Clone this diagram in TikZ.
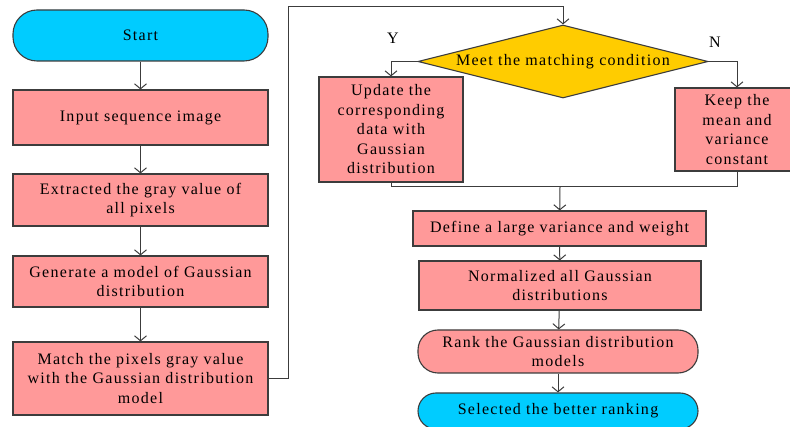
\documentclass[tikz,border=0pt]{standalone}
\usepackage{fontspec}
\setmainfont[LetterSpace=8]{Liberation Serif}
\usepackage{tikz}
\usetikzlibrary{arrows.meta}
\usetikzlibrary{shapes.geometric}

\definecolor{startcyan}{RGB}{0,204,255}
\definecolor{boxpink}{RGB}{255,153,153}
\definecolor{condyellow}{RGB}{255,204,0}
\definecolor{edgegray}{RGB}{60,60,60}

\begin{document}
\begin{tikzpicture}
[x=1pt,y=-1pt
,fb/.style={draw=edgegray,line width=1.1pt,align=center,inner sep=2pt,
  font=\fontsize{16}{19.5}\selectfont}
,term/.style={fb,fill=startcyan,rounded corners=24pt}
,proc/.style={fb,fill=boxpink}
,rankbox/.style={fb,fill=boxpink,rounded corners=20pt}
,cond/.style={fb,fill=condyellow,diamond,inner sep=0pt}
,be/.style={draw=edgegray,line width=1pt,arrows={-Straight Barb[length=5pt,width=12pt]}}
,ln/.style={draw=edgegray,line width=1pt}
,yn/.style={font=\fontsize{16}{19.5}\selectfont}]
\useasboundingbox (0,0) rectangle (790,427);

\node[term,minimum width=255pt,minimum height=51pt] (start) at (140.5,35.5) {Start};
\node[proc,minimum width=255pt,minimum height=55pt] (input) at (140.5,117.5) {Input sequence image};
\node[proc,minimum width=255pt,minimum height=52pt] (gray) at (140.5,200) {Extracted the gray value of\\all pixels};
\node[proc,minimum width=255pt,minimum height=51pt] (model) at (140.5,281.5) {Generate a model of Gaussian\\distribution};
\node[proc,minimum width=255pt,minimum height=73pt] (match) at (140.5,378.5) {Match the pixels gray value\\with the Gaussian distribution\\model};

\node[cond,minimum width=290pt,minimum height=73pt,
  label={[yn]center:Meet the matching condition}] (mc) at (563,61.5) {};
\node[proc,minimum width=144pt,minimum height=105pt] (update) at (391,129.5) {Update the\\corresponding\\data with\\Gaussian\\distribution};
\node[proc,minimum width=124pt,minimum height=83pt] (keep) at (737,129.5) {Keep the\\mean and\\variance\\constant};
\node[yn] (yes) at (393,38) {Y};
\node[yn] (no) at (715,42) {N};

\node[proc,minimum width=293pt,minimum height=35pt] (define) at (559.5,228.5) {Define a large variance and weight};
\node[proc,minimum width=282pt,minimum height=49pt] (norm) at (560,285.5) {Normalized all Gaussian\\distributions};
\node[rankbox,minimum width=280pt,minimum height=43pt] (rank) at (558,351.5) {Rank the Gaussian distribution\\models};
\node[term,minimum width=280pt,minimum height=36pt,rounded corners=18pt] (select) at (558,411) {Selected the better ranking};

\coordinate (loop) at (288,7);
\coordinate (merge) at (560,187);

\draw[be] (start) -- (input);
\draw[be] (input) -- (gray);
\draw[be] (gray) -- (model);
\draw[be] (model) -- (match);
\draw[be] (match.east) -| (loop) -| (mc.north);

\draw[be] (mc.west) -| (update.north);
\draw[be] (mc.east) -| (keep.north);
\draw[ln] (update.south) |- (merge);
\draw[ln] (keep.south) |- (merge);
\draw[be] (merge) -- (define);

\draw[be] (define) -- (norm);
\draw[be] (norm) -- (rank);
\draw[be] (rank) -- (select);
\end{tikzpicture}
\end{document}
